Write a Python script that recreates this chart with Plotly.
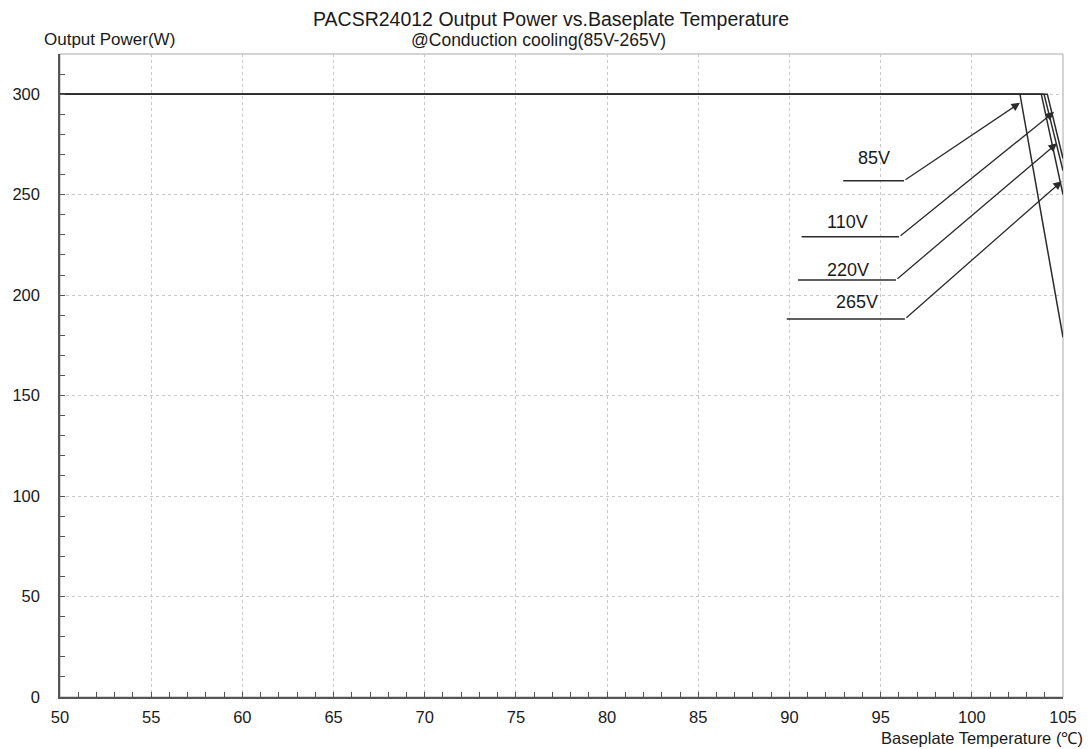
import plotly.graph_objects as go

# Derating curves (temperature in degC, output power in W)
t_85 = [50, 102.64, 105]
p_85 = [300, 300, 179]
t_110 = [50, 104.14, 105]
p_110 = [300, 300, 268]
t_220 = [50, 103.96, 105]
p_220 = [300, 300, 262]
t_265 = [50, 103.81, 105]
p_265 = [300, 300, 250]

# Label callouts: text, text position, leader horizontal start/end x, leader y, arrow tip
labels = ["85V", "110V", "220V", "265V"]
label_x = [94.64, 93.21, 93.21, 93.69]
label_y = [268.2, 236.5, 212.4, 196.4]
leader_x0 = [92.95, 90.67, 90.47, 89.85]
leader_x1 = [96.28, 96.01, 95.84, 96.33]
leader_y = [256.9, 229.0, 207.5, 188.1]
tip_x = [102.64, 104.51, 104.67, 104.93]
tip_y = [295.7, 291.2, 275.6, 256.7]

x_ticks = list(range(50, 106, 5))
y_ticks = list(range(0, 301, 50))

FONT = "Liberation Sans, Arial, sans-serif"
LINE = "#2b2b2b"
TXT = "#1a1a1a"

fig = go.Figure()
for t, p, name in [(t_85, p_85, "85V"), (t_110, p_110, "110V"),
                   (t_220, p_220, "220V"), (t_265, p_265, "265V")]:
    fig.add_trace(go.Scatter(x=t, y=p, mode="lines", name=name,
                             line=dict(color=LINE, width=1.5),
                             showlegend=False, hoverinfo="skip"))

for i, lab in enumerate(labels):
    fig.add_trace(go.Scatter(x=[leader_x0[i], leader_x1[i]], y=[leader_y[i], leader_y[i]],
                             mode="lines", line=dict(color=LINE, width=1.5),
                             showlegend=False, hoverinfo="skip"))
    fig.add_annotation(x=tip_x[i], y=tip_y[i], ax=leader_x1[i], ay=leader_y[i],
                       xref="x", yref="y", axref="x", ayref="y",
                       showarrow=True, arrowhead=2, arrowsize=1.3, arrowwidth=1.3,
                       arrowcolor=LINE, text="")
    fig.add_annotation(x=label_x[i], y=label_y[i], xref="x", yref="y",
                       xanchor="center", yanchor="middle",
                       text=lab, showarrow=False,
                       font=dict(family=FONT, size=18, color=TXT))

fig.add_annotation(x=0.49, y=1.054, xref="paper", yref="paper",
                   xanchor="center", yanchor="middle",
                   text="PACSR24012 Output Power vs.Baseplate Temperature",
                   showarrow=False, font=dict(family=FONT, size=19.5, color=TXT))
fig.add_annotation(x=0.477, y=1.0225, xref="paper", yref="paper",
                   xanchor="center", yanchor="middle",
                   text="@Conduction cooling(85V-265V)",
                   showarrow=False, font=dict(family=FONT, size=17.5, color=TXT))
fig.add_annotation(x=-0.018, y=1.0225, xref="paper", yref="paper",
                   xanchor="left", yanchor="middle",
                   text="Output Power(W)", showarrow=False,
                   font=dict(family=FONT, size=17, color=TXT))
fig.add_annotation(x=1.0219, y=-0.0638, xref="paper", yref="paper",
                   xanchor="right", yanchor="middle",
                   text="Baseplate Temperature (℃)", showarrow=False,
                   font=dict(family=FONT, size=16.5, color=TXT))

# light frame top/right
fig.add_shape(type="rect", xref="paper", yref="paper", x0=0, y0=0, x1=1, y1=1,
              line=dict(color="#a8a8a8", width=1), layer="below")

fig.update_xaxes(range=[50, 105], tickvals=x_ticks, ticks="inside", ticklen=5,
                 tickcolor="#555", showline=True, linecolor="#555", linewidth=1.5,
                 showgrid=True, gridcolor="#c8c8c8", griddash="dot", gridwidth=1,
                 zeroline=False, automargin=False,
                 minor=dict(dtick=1, ticks="inside", ticklen=5, tickcolor="#555",
                            showgrid=False),
                 tickfont=dict(family=FONT, size=16.5, color=TXT), ticklabelstandoff=4)
fig.update_yaxes(range=[0, 320], tickvals=y_ticks, ticks="inside", ticklen=5,
                 tickcolor="#555", showline=True, linecolor="#555", linewidth=1.5,
                 showgrid=True, gridcolor="#c8c8c8", griddash="dot", gridwidth=1,
                 zeroline=False, automargin=False,
                 minor=dict(dtick=10, ticks="inside", ticklen=5, tickcolor="#555",
                            showgrid=False),
                 tickfont=dict(family=FONT, size=16.5, color=TXT), ticklabelstandoff=15)

# page body has an 8px margin, so the figure is sized to fit the window
fig.update_layout(width=1083, height=741, margin=dict(l=52, r=28, t=46, b=52),
                  plot_bgcolor="white", paper_bgcolor="white")

fig.write_html("out.html")
